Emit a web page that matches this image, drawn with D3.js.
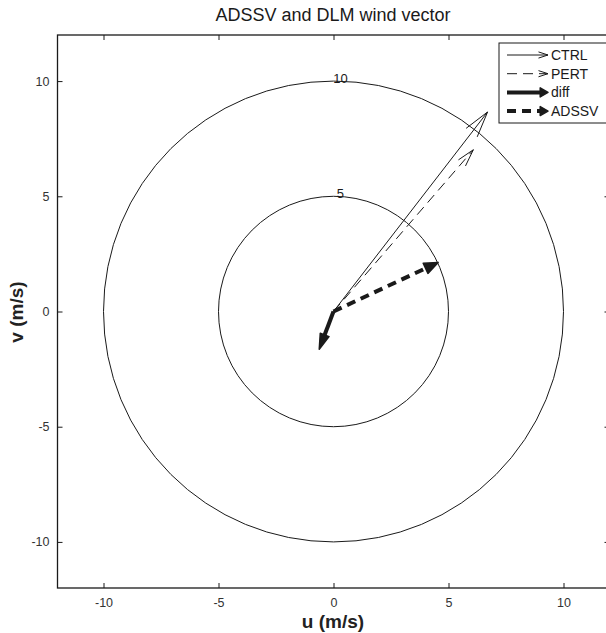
<!DOCTYPE html>
<html>
<head>
<meta charset="utf-8">
<script src="https://cdn.jsdelivr.net/npm/d3@7"></script>
<style>
  body { margin: 0; background: #fff; }
  svg { display: block; font-family: "Liberation Sans", Arial, sans-serif; }
</style>
</head>
<body>
<div id="vis"></div>
<script>
// wind vectors (m/s), all drawn from the origin
const series = ["CTRL", "PERT", "diff", "ADSSV"];
const uEnd = [6.70, 6.08, -0.62, 4.55];
const vEnd = [8.66, 7.02, -1.64, 2.13];
const ringRadii = [5, 10];
const tickValues = [-10, -5, 0, 5, 10];

const styles = {
    CTRL:  { width: 1,   dash: null,  head: 27, spread: 15, fill: false },
    PERT:  { width: 1,   dash: "10,6", head: 18, spread: 15, fill: false },
    diff:  { width: 4,   dash: null,  head: 16, spread: 17, fill: true },
    ADSSV: { width: 4,   dash: "9,6", head: 15, spread: 22, fill: true }
};

var margin = { top: 35, left: 57.5 },
    width = 552, height = 553;

var svg = d3.select("#vis").append("svg")
    .attr("width", 606).attr("height", 633);

var g = svg.append("g")
    .attr("transform", "translate(" + margin.left + "," + margin.top + ")");

var x = d3.scaleLinear().domain([-12, 12]).range([0, width]);
var y = d3.scaleLinear().domain([-12, 12]).range([height, 0]);
var ink = "#1a1a1a";

// title and axis labels
svg.append("text").attr("x", 333).attr("y", 21).attr("text-anchor", "middle")
    .attr("font-size", 18).attr("fill", ink).text("ADSSV and DLM wind vector");
svg.append("text").attr("x", 333).attr("y", 628).attr("text-anchor", "middle")
    .attr("font-size", 19).attr("font-weight", "bold").attr("fill", "#222").text("u (m/s)");
svg.append("text").attr("transform", "translate(23,312) rotate(-90)").attr("text-anchor", "middle")
    .attr("font-size", 19).attr("font-weight", "bold").attr("fill", "#222").text("v (m/s)");

// box with inward ticks on every side
function styleAxis(sel) {
    sel.attr("color", ink);
    sel.select(".domain").remove();
    sel.selectAll(".tick text").attr("font-size", 12.5).attr("fill", "#333")
        .attr("font-family", "Liberation Sans, Arial, sans-serif");
}
var fmt = d => String(d);
g.append("g").attr("transform", "translate(0," + height + ")")
    .call(d3.axisBottom(x).tickValues(tickValues).tickSize(-5).tickPadding(10).tickFormat(fmt))
    .call(styleAxis);
g.append("g")
    .call(d3.axisLeft(y).tickValues(tickValues).tickSize(-5).tickPadding(8).tickFormat(fmt))
    .call(styleAxis);
g.append("g")
    .call(d3.axisTop(x).tickValues(tickValues).tickSize(-5).tickFormat(""))
    .call(styleAxis);
g.append("g").attr("transform", "translate(" + width + ",0)")
    .call(d3.axisRight(y).tickValues(tickValues).tickSize(-5).tickFormat(""))
    .call(styleAxis);
g.append("rect").attr("width", width).attr("height", height)
    .attr("fill", "none").attr("stroke", ink).attr("stroke-width", 1.3);

// speed rings with labels
g.selectAll(".ring").data(ringRadii).enter().append("ellipse")
    .attr("class", "ring")
    .attr("cx", x(0)).attr("cy", y(0))
    .attr("rx", d => x(d) - x(0)).attr("ry", d => y(0) - y(d))
    .attr("fill", "none").attr("stroke", ink).attr("stroke-width", 1);
g.selectAll(".ringLabel").data(ringRadii).enter().append("text")
    .attr("x", d => x(0.3)).attr("y", d => y(d) + 2)
    .attr("text-anchor", "middle").attr("font-size", 13).attr("fill", ink)
    .text(d => d);

// arrow drawing in pixel space
function arrow(sel, x0, y0, x1, y1, st) {
    var a = Math.atan2(y1 - y0, x1 - x0);
    var s = st.spread * Math.PI / 180;
    var p1 = [x1 - st.head * Math.cos(a - s), y1 - st.head * Math.sin(a - s)];
    var p2 = [x1 - st.head * Math.cos(a + s), y1 - st.head * Math.sin(a + s)];
    var back = st.fill ? st.head * 0.8 : 0;
    sel.append("line")
        .attr("x1", x0).attr("y1", y0)
        .attr("x2", x1 - back * Math.cos(a)).attr("y2", y1 - back * Math.sin(a))
        .attr("stroke", ink).attr("stroke-width", st.width)
        .attr("stroke-dasharray", st.dash);
    if (st.fill) {
        sel.append("path")
            .attr("d", "M" + p1 + "L" + [x1, y1] + "L" + p2 + "Z")
            .attr("fill", ink).attr("stroke", ink).attr("stroke-width", 1.5)
            .attr("stroke-linejoin", "round");
    } else {
        sel.append("path")
            .attr("d", "M" + p1 + "L" + [x1, y1] + "L" + p2)
            .attr("fill", "none").attr("stroke", ink).attr("stroke-width", st.width);
    }
}

series.forEach(function (name, i) {
    arrow(g.append("g"), x(0), y(0), x(uEnd[i]), y(vEnd[i]), styles[name]);
});

// legend
var lg = svg.append("g").attr("transform", "translate(499,43)");
lg.append("rect").attr("width", 108).attr("height", 80)
    .attr("fill", "#fff").attr("stroke", ink).attr("stroke-width", 1);
series.forEach(function (name, i) {
    var ly = 12 + i * 18.7;
    var thin = name === "CTRL" || name === "PERT";
    var st = Object.assign({}, styles[name], { head: thin ? 10 : 9, spread: thin ? 18 : 30 });
    arrow(lg.append("g"), 8, ly, 49, ly, st);
    lg.append("text").attr("x", 52).attr("y", ly + 5)
        .attr("font-size", 14).attr("fill", ink).text(name);
});
</script>
</body>
</html>
